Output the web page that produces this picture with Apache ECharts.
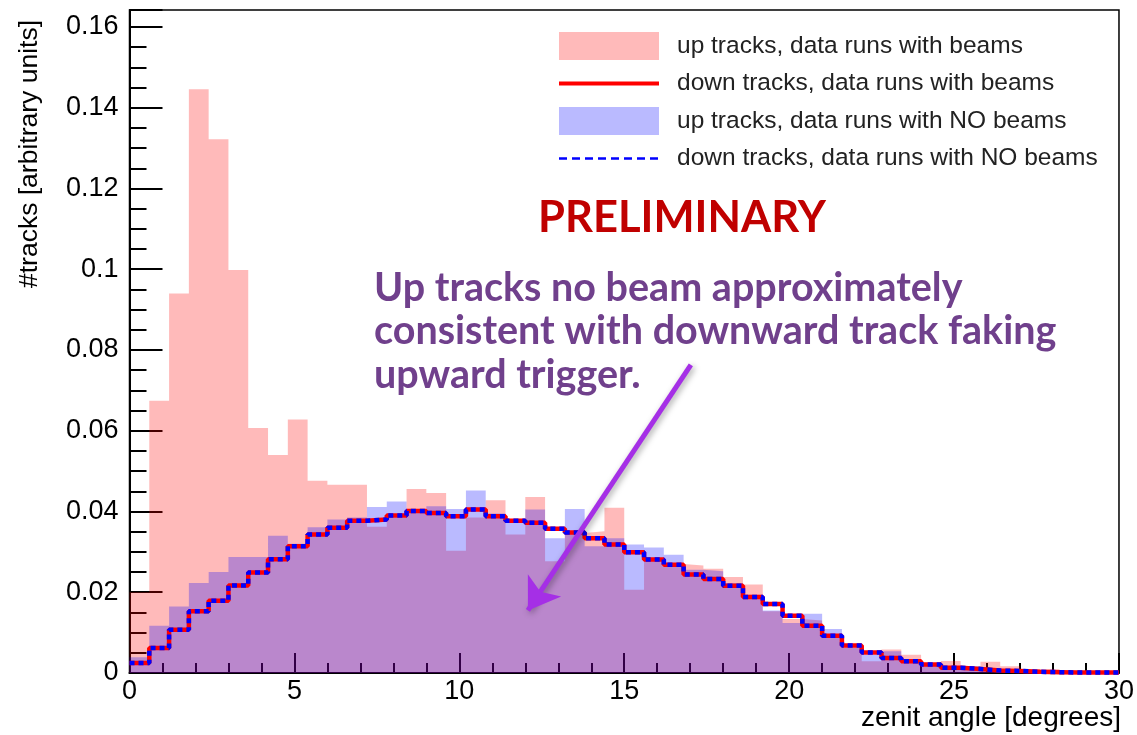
<!DOCTYPE html>
<html>
<head>
<meta charset="utf-8">
<script src="https://cdn.jsdelivr.net/npm/echarts@6/dist/echarts.min.js"></script>
<style>
html, body { margin: 0; padding: 0; background: #fff; }
#main { width: 1137px; height: 735px; }
</style>
</head>
<body>
<div id="main"></div>
<script>
// zenit angle histograms: 50 bins of 0.6 deg between 0 and 30
const binWidth = 0.6
const xMax = 30
const upBeam = [
  0.0200, 0.0674, 0.0940, 0.1446, 0.1322, 0.0998, 0.0607, 0.0540, 0.0628, 0.0476,
  0.0466, 0.0466, 0.0362, 0.0385, 0.0456, 0.0446, 0.0303, 0.0385, 0.0428, 0.0343,
  0.0436, 0.0277, 0.0347, 0.0351, 0.0409, 0.0206, 0.0280, 0.0270, 0.0266, 0.0258,
  0.0238, 0.0219, 0.0153, 0.0134, 0.0130, 0.0092, 0.0065, 0.0029, 0.0058, 0.0045,
  0.0020, 0.0030, 0.0012, 0.0028, 0.0017, 0.0009, 0.0009, 0.0003, 0.0001, 0.0001
]
const downBeam = [
  0.0025, 0.0062, 0.0107, 0.0153, 0.0179, 0.0217, 0.0249, 0.0282, 0.0314, 0.0343,
  0.0360, 0.0377, 0.0380, 0.0390, 0.0401, 0.0396, 0.0388, 0.0405, 0.0388, 0.0377,
  0.0372, 0.0357, 0.0348, 0.0334, 0.0318, 0.0299, 0.0281, 0.0268, 0.0244, 0.0233,
  0.0216, 0.0188, 0.0171, 0.0142, 0.0117, 0.0092, 0.0068, 0.0051, 0.0037, 0.0029,
  0.0021, 0.0013, 0.0010, 0.0006, 0.0005, 0.0003, 0.0002, 0.0001, 0.0001, 0.0001
]
const upNoBeam = [
  0.0039, 0.0117, 0.0165, 0.0223, 0.0250, 0.0287, 0.0287, 0.0340, 0.0320, 0.0361,
  0.0380, 0.0385, 0.0411, 0.0425, 0.0403, 0.0413, 0.0406, 0.0452, 0.0395, 0.0380,
  0.0405, 0.0334, 0.0406, 0.0314, 0.0334, 0.0318, 0.0311, 0.0293, 0.0256, 0.0252,
  0.0223, 0.0194, 0.0155, 0.0124, 0.0147, 0.0109, 0.0062, 0.0045, 0.0054, 0.0030,
  0.0022, 0.0012, 0.0017, 0.0005, 0.0005, 0.0003, 0.0002, 0.0001, 0.0001, 0.0000
]
const downNoBeam = [
  0.0025, 0.0062, 0.0107, 0.0153, 0.0179, 0.0217, 0.0249, 0.0282, 0.0314, 0.0343,
  0.0360, 0.0377, 0.0380, 0.0390, 0.0401, 0.0396, 0.0388, 0.0405, 0.0388, 0.0377,
  0.0372, 0.0357, 0.0348, 0.0334, 0.0318, 0.0299, 0.0281, 0.0268, 0.0244, 0.0233,
  0.0216, 0.0188, 0.0171, 0.0142, 0.0117, 0.0092, 0.0068, 0.0051, 0.0037, 0.0029,
  0.0021, 0.0013, 0.0010, 0.0006, 0.0005, 0.0003, 0.0002, 0.0001, 0.0001, 0.0001
]
const seriesNames = [
  'up tracks, data runs with beams',
  'down tracks, data runs with beams',
  'up tracks, data runs with NO beams',
  'down tracks, data runs with NO beams'
]
// arrow of the annotation, in data units [deg, value]
const arrowFrom = [17.02, 0.0763]
const arrowTo = [12.08, 0.0155]

// bin left edges + closing edge, drawn with step 'end'
function steps(vals) {
  let pts = vals.map((v, i) => [+(i * binWidth).toFixed(2), v])
  pts.push([xMax, vals[vals.length - 1]])
  return pts
}

let chart = echarts.init(document.getElementById('main'))
let font = 'Liberation Sans'
let option = {
  backgroundColor: '#fff',
  animation: false,
  grid: {
    left: 129.5, right: 15.5, top: 10, bottom: 62,
    show: true, borderColor: '#000', borderWidth: 1.5
  },
  legend: {
    orient: 'vertical',
    left: 552, top: 27,
    itemWidth: 100, itemHeight: 28, itemGap: 11,
    selectedMode: false,
    textStyle: { fontSize: 24.5, color: '#222', fontFamily: font, padding: [0, 0, 0, 13] },
    data: [
      { name: seriesNames[0], icon: 'rect' },
      { name: seriesNames[1], itemStyle: { opacity: 0 }, lineStyle: { width: 4, color: '#ff0000' } },
      { name: seriesNames[2], icon: 'rect' },
      { name: seriesNames[3], itemStyle: { opacity: 0 }, lineStyle: { width: 2.5, color: '#0000ff', type: [8, 5] } }
    ]
  },
  xAxis: {
    type: 'value',
    min: 0, max: xMax, interval: 5,
    axisLine: { lineStyle: { color: '#000', width: 2 } },
    axisTick: { inside: true, length: 20, lineStyle: { color: '#000', width: 2 } },
    minorTick: { show: true, splitNumber: 5, length: 10, lineStyle: { color: '#000', width: 2 } },
    splitLine: { show: false },
    axisLabel: { fontSize: 27, color: '#000', fontFamily: font, margin: 5 }
  },
  yAxis: {
    type: 'value',
    min: 0, max: 0.1642, interval: 0.02,
    axisLine: { show: true, lineStyle: { color: '#000', width: 2 } },
    axisTick: { show: true, inside: true, length: 33, lineStyle: { color: '#000', width: 2 } },
    minorTick: { show: true, splitNumber: 4, length: 17, lineStyle: { color: '#000', width: 2 } },
    splitLine: { show: false },
    axisLabel: {
      fontSize: 27, color: '#000', fontFamily: font, margin: 11, showMaxLabel: false,
      formatter: function (v) { return String(+v.toFixed(2)) }
    }
  },
  series: [
    {
      name: seriesNames[0], type: 'line', step: 'end', symbol: 'none', z: 1,
      data: steps(upBeam),
      itemStyle: { color: 'rgba(255,0,0,0.27)' },
      lineStyle: { width: 0, opacity: 0 },
      areaStyle: { color: 'rgba(255,0,0,0.27)', opacity: 1 }
    },
    {
      name: seriesNames[2], type: 'line', step: 'end', symbol: 'none', z: 2,
      data: steps(upNoBeam),
      itemStyle: { color: 'rgba(0,0,255,0.27)' },
      lineStyle: { width: 0, opacity: 0 },
      areaStyle: { color: 'rgba(0,0,255,0.27)', opacity: 1 }
    },
    {
      name: seriesNames[1], type: 'line', step: 'end', symbol: 'none', z: 3,
      data: steps(downBeam),
      itemStyle: { color: '#ff0000' },
      lineStyle: { color: '#ff0000', width: 4.5 }
    },
    {
      name: seriesNames[3], type: 'line', step: 'end', symbol: 'none', z: 4,
      data: steps(downNoBeam),
      itemStyle: { color: '#0000ff' },
      lineStyle: { color: '#0000ff', width: 4.5, type: [5, 4] },
      markLine: {
        silent: true,
        symbol: ['none', 'arrow'],
        symbolSize: 30,
        label: { show: false },
        lineStyle: {
          color: '#a52fe6', width: 5, type: 'solid',
          shadowColor: 'rgba(0,0,0,0.35)', shadowBlur: 6, shadowOffsetX: 2, shadowOffsetY: 2
        },
        data: [[{ coord: arrowFrom }, { coord: arrowTo }]]
      }
    }
  ],
  graphic: [
    {
      type: 'text', x: 30, y: 20, rotation: Math.PI / 2,
      style: { text: '#tracks [arbitrary units]', font: '26.5px "Liberation Sans"', fill: '#000', align: 'right', verticalAlign: 'middle' }
    },
    {
      type: 'text', x: 1121, y: 718,
      style: { text: 'zenit angle [degrees]', font: '28px "Liberation Sans"', fill: '#000', align: 'right', verticalAlign: 'middle' }
    },
    {
      type: 'text', x: 682, y: 218,
      style: { text: 'PRELIMINARY', font: 'bold 43.5px Lato', fill: '#c00000', align: 'center', verticalAlign: 'middle' }
    },
    {
      type: 'text', x: 374, y: 288,
      style: { text: 'Up tracks no beam approximately', font: 'bold 39.5px Lato', fill: '#70408c', align: 'left', verticalAlign: 'middle' }
    },
    {
      type: 'text', x: 374, y: 331,
      style: { text: 'consistent with downward track faking', font: 'bold 39.5px Lato', fill: '#70408c', align: 'left', verticalAlign: 'middle' }
    },
    {
      type: 'text', x: 374, y: 375,
      style: { text: 'upward trigger.', font: 'bold 39.5px Lato', fill: '#70408c', align: 'left', verticalAlign: 'middle' }
    }
  ]
}
chart.setOption(option)
</script>
</body>
</html>
